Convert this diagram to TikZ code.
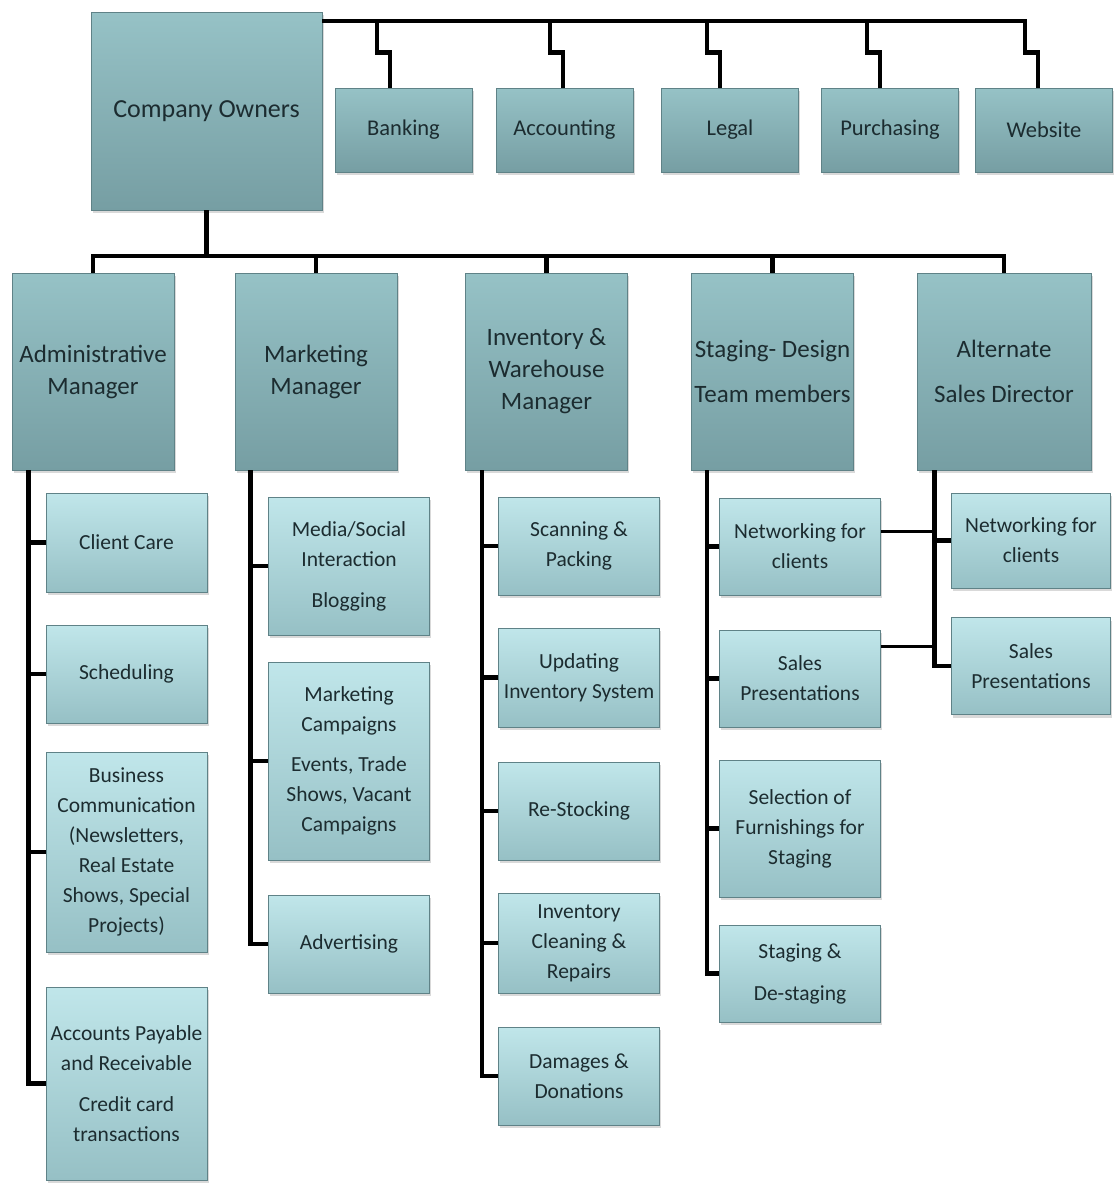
\documentclass[tikz,border=0pt]{standalone}
\usepackage{fontspec}
\setmainfont{Carlito}
\usepackage{xcolor}
\usepackage{tikz}
\usetikzlibrary{positioning, shadows, calc}
\definecolor{ownertop}{RGB}{150,194,198}
\definecolor{ownerbot}{RGB}{118,158,163}
\definecolor{subtop}{RGB}{192,230,234}
\definecolor{subbot}{RGB}{150,192,197}
\definecolor{edgeteal}{RGB}{95,130,135}
\definecolor{inktxt}{RGB}{28,44,48}

\begin{document}
\begin{tikzpicture}[x=1pt, y=-1pt,
    box/.style={rectangle, draw=edgeteal, line width=0.6pt, top color=ownertop, bottom color=ownerbot,
        drop shadow={opacity=0.3, shadow xshift=1.5pt, shadow yshift=-3pt},
        align=center, text=inktxt, inner sep=2pt},
    ownerbox/.style={box, minimum width=231pt, minimum height=198pt, font=\fontsize{26}{30}\selectfont},
    topbox/.style={box, minimum width=137pt, minimum height=84pt, font=\fontsize{22.5}{26}\selectfont},
    mgrbox/.style={box, minimum width=162pt, minimum height=197pt, font=\fontsize{25}{32}\selectfont},
    subbox/.style={box, top color=subtop, bottom color=subbot, minimum width=161pt, font=\fontsize{21.5}{30}\selectfont},
    wire/.style={line width=4.5pt, black},
    crossline/.style={line width=3pt, black}]
    \useasboundingbox (0,0) rectangle (1114,1184);

    % Proprietari e servizi esterni
    \node[ownerbox] (owners) at (206.5,111) {Company Owners};
    \node[topbox] (banking) at (403.5,130) {Banking};
    \node[topbox] (accounting) at (564.5,130) {Accounting};
    \node[topbox] (legal) at (730,130) {Legal};
    \node[topbox] (purchasing) at (890,130) {Purchasing};
    \node[topbox] (website) at (1044,130) {Website};

    % Responsabili
    \node[mgrbox] (admin) at (93,371.5) {Administrative\\Manager};
    \node[mgrbox] (marketing) at (316,371.5) {Marketing\\Manager};
    \node[mgrbox] (inventory) at (546.5,371.5) {Inventory \&\\Warehouse\\Manager};
    \node[mgrbox] (staging) at (772.5,371.5) {Staging- Design\\[13pt]Team members};
    \node[mgrbox, minimum width=174pt] (altmgr) at (1004,371.5) {Alternate\\[13pt]Sales Director};

    % Compiti amministrativi
    \node[subbox, minimum height=99pt] (clientcare) at (126.5,542.5) {Client Care};
    \node[subbox, minimum height=98pt] (scheduling) at (126.5,674) {Scheduling};
    \node[subbox, minimum height=200pt] (buscomm) at (126.5,852) {Business\\Communication\\(Newsletters,\\Real Estate\\Shows, Special\\Projects)};
    \node[subbox, minimum height=193pt] (accounts) at (126.5,1083.5) {Accounts Payable\\and Receivable\\[11pt]Credit card\\transactions};

    % Compiti marketing
    \node[subbox, minimum height=138pt] (media) at (349,566) {Media/Social\\Interaction\\[11pt]Blogging};
    \node[subbox, minimum height=198pt] (campaigns) at (349,761) {Marketing\\Campaigns\\[10pt]Events, Trade\\Shows, Vacant\\Campaigns};
    \node[subbox, minimum height=98pt] (advertising) at (349,944) {Advertising};

    % Compiti magazzino
    \node[subbox, minimum height=98pt] (scanning) at (579,546) {Scanning \&\\Packing};
    \node[subbox, minimum height=99pt] (updating) at (579,677.5) {Updating\\Inventory System};
    \node[subbox, minimum height=98pt] (restocking) at (579,811) {Re-Stocking};
    \node[subbox, minimum height=100pt] (cleaning) at (579,943) {Inventory\\Cleaning \&\\Repairs};
    \node[subbox, minimum height=98pt] (damages) at (579,1076) {Damages \&\\Donations};

    % Compiti staging
    \node[subbox, minimum height=97pt] (stagnet) at (800,546.5) {Networking for\\clients};
    \node[subbox, minimum height=97pt] (stagsales) at (800,678.5) {Sales\\Presentations};
    \node[subbox, minimum height=137pt] (selection) at (800,828.5) {Selection of\\Furnishings for\\Staging};
    \node[subbox, minimum height=97pt] (destaging) at (800,973.5) {Staging \&\\[12pt]De-staging};

    % Compiti vendite
    \node[subbox, minimum width=159pt, minimum height=95pt] (altnet) at (1031,540.5) {Networking for\\clients};
    \node[subbox, minimum width=159pt, minimum height=97pt] (altpres) at (1031,666) {Sales\\Presentations};

    % Collegamenti in alto
    \coordinate (topbar) at (1027,21);
    \draw[wire] (owners.east |- topbar) -- (topbar);
    \foreach \n/\dx in {banking/-13.5, accounting/-1.5, legal/-10, purchasing/-10, website/-6}
        \draw[wire] ([xshift=\dx pt]\n.north) -- ++(0,-35) -- ++(-13,0) |- (topbar);

    % Collegamenti ai responsabili
    \coordinate (mgrbar) at (206.5,256);
    \draw[wire] (owners.south) -- (mgrbar);
    \draw[wire] (admin.north) |- (mgrbar) -| (altmgr.north);
    \foreach \m in {marketing, inventory, staging}
        \draw[wire] (\m.north) -- (\m.north |- mgrbar);

    % Linee verticali
    \coordinate (adminspine) at ([xshift=17pt]admin.south west);
    \coordinate (mktspine) at ([xshift=16pt]marketing.south west);
    \coordinate (invspine) at ([xshift=17pt]inventory.south west);
    \coordinate (stagspine) at ([xshift=16pt]staging.south west);
    \coordinate (altspine) at ([xshift=18pt]altmgr.south west);

    \draw[wire] (adminspine) |- (accounts.west);
    \foreach \s in {clientcare, scheduling, buscomm}
        \draw[wire] (\s.west) -- (\s.west -| adminspine);
    \draw[wire] (mktspine) |- (advertising.west);
    \foreach \s in {media, campaigns}
        \draw[wire] (\s.west) -- (\s.west -| mktspine);
    \draw[wire] (invspine) |- (damages.west);
    \foreach \s in {scanning, updating, restocking, cleaning}
        \draw[wire] (\s.west) -- (\s.west -| invspine);
    \draw[wire] (stagspine) |- (destaging.west);
    \foreach \s in {stagnet, stagsales, selection}
        \draw[wire] (\s.west) -- (\s.west -| stagspine);
    \draw[wire] (altspine) |- (altpres.west);
    \draw[wire] (altnet.west) -- (altnet.west -| altspine);

    % Collegamenti trasversali
    \draw[crossline] ([yshift=15.5pt]stagnet.east) -- ([yshift=15.5pt]stagnet.east -| altspine);
    \draw[crossline] ([yshift=32.5pt]stagsales.east) -- ([yshift=32.5pt]stagsales.east -| altspine);
\end{tikzpicture}
\end{document}
